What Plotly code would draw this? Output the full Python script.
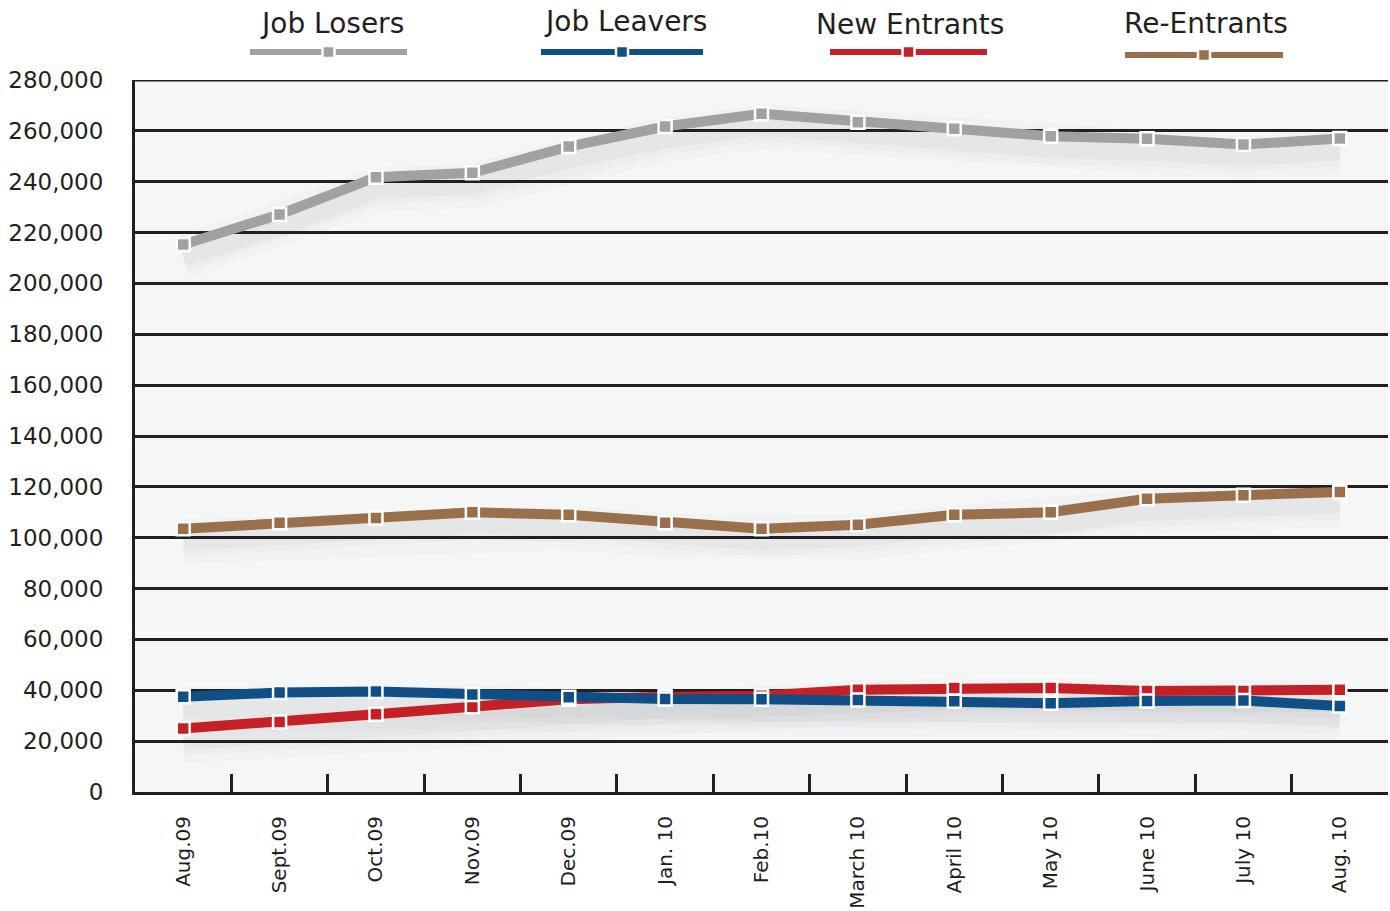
import plotly.graph_objects as go

# ---- data ----
months = ["Aug.09", "Sept.09", "Oct.09", "Nov.09", "Dec.09", "Jan. 10", "Feb.10",
          "March 10", "April 10", "May 10", "June 10", "July 10", "Aug. 10"]

job_losers = [215300, 227100, 241800, 243500, 253800, 261700, 266700,
              263400, 260800, 257900, 256900, 254600, 257000]
job_leavers = [37500, 39100, 39500, 38300, 37300, 36600, 36500,
               36200, 35700, 34900, 35800, 36000, 33800]
new_entrants = [25000, 27500, 30600, 33500, 36500, 37500, 37900,
                40200, 40900, 40900, 39700, 39700, 40200]
re_entrants = [103500, 105900, 107800, 110000, 109000, 105900, 103500,
               105100, 109000, 110000, 115300, 116700, 118000]

y_ticks = list(range(0, 280001, 20000))
y_tick_text = ["0"] + [f"{v:,}" for v in y_ticks[1:]]

# drawing order: red under blue, as in the picture
series = [
    ("Job Losers", job_losers, "#a0a2a0"),
    ("Re-Entrants", re_entrants, "#99704b"),
    ("New Entrants", new_entrants, "#c62027"),
    ("Job Leavers", job_leavers, "#104f86"),
]
legend_order = ["Job Losers", "Job Leavers", "New Entrants", "Re-Entrants"]
colors = {name: c for name, _, c in series}

FONT = "DejaVu Sans"
INK = "#231f20"

fig = go.Figure()

# soft drop shadows under each line
for name, vals, col in series:
    for w, a in [(44, 0.018), (30, 0.025), (18, 0.035)]:
        fig.add_trace(go.Scatter(
            x=months, y=[v - 5000 for v in vals], mode="lines",
            line=dict(color=f"rgba(60,60,70,{a})", width=w),
            hoverinfo="skip", showlegend=False,
        ))

for name, vals, col in series:
    fig.add_trace(go.Scatter(
        x=months, y=vals, name=name, mode="lines+markers",
        line=dict(color=col, width=10),
        marker=dict(symbol="square", size=13, color=col,
                    line=dict(color="white", width=2.5)),
        showlegend=False,
    ))

# custom legend: label above a line sample with a square in the middle
L, R, T, B = 135, 1388, 80, 792
def px_x(p):
    return (p - L) / (R - L)
def px_y(p):
    return (B - p) / (B - T)

legend_pos = {  # text centre x, line start, line end, line y, text y
    "Job Losers": (332, 250, 407, 52, 23),
    "Job Leavers": (625, 541, 703, 52, 22),
    "New Entrants": (910, 830, 987, 52, 25),
    "Re-Entrants": (1206, 1125, 1283, 55, 23),
}
for name in legend_order:
    tx, x0, x1, ly, ty = legend_pos[name]
    col = colors[name]
    fig.add_annotation(x=px_x(tx), y=px_y(ty), xref="paper", yref="paper",
                       xanchor="center", yanchor="middle",
                       text=name, showarrow=False,
                       font=dict(family=FONT, size=28, color=INK))
    fig.add_shape(type="line", xref="paper", yref="paper",
                  x0=px_x(x0), x1=px_x(x1), y0=px_y(ly), y1=px_y(ly),
                  line=dict(color=col, width=6))
    mx = (x0 + x1) / 2
    fig.add_shape(type="rect", xref="paper", yref="paper",
                  x0=px_x(mx - 6), x1=px_x(mx + 6),
                  y0=px_y(ly + 6), y1=px_y(ly - 6),
                  fillcolor=col, line=dict(color="white", width=2.5))

# top border line at the 280,000 level
fig.add_shape(type="line", xref="paper", yref="y", x0=0, x1=1,
              y0=y_ticks[-1], y1=y_ticks[-1], layer="below",
              line=dict(color=INK, width=3))

fig.update_layout(
    width=1390, height=911,
    margin=dict(l=L, r=1390 - R, t=T, b=911 - B),
    paper_bgcolor="#ffffff",
    plot_bgcolor="#f5f6f6",
    font=dict(family=FONT, color=INK),
    showlegend=False,
)
fig.update_xaxes(
    type="category", range=[-0.5, len(months) - 0.5], automargin=False,
    tickangle=-90, tickfont=dict(size=20, color=INK),
    showline=True, linecolor=INK, linewidth=3,
    ticks="inside", tickson="boundaries", ticklen=18, tickwidth=3, tickcolor=INK,
    showgrid=False, ticklabelstandoff=13,
)
fig.update_yaxes(
    range=[0, 280000], tickvals=y_ticks, ticktext=y_tick_text, automargin=False,
    tickfont=dict(size=23, color=INK),
    showline=True, linecolor=INK, linewidth=3,
    showgrid=True, gridcolor=INK, gridwidth=3, zeroline=False,
    ticks="", ticklabelstandoff=24,
)

fig.write_html("out.html", config={"displayModeBar": False},
               post_script="document.body.style.margin='0';")
